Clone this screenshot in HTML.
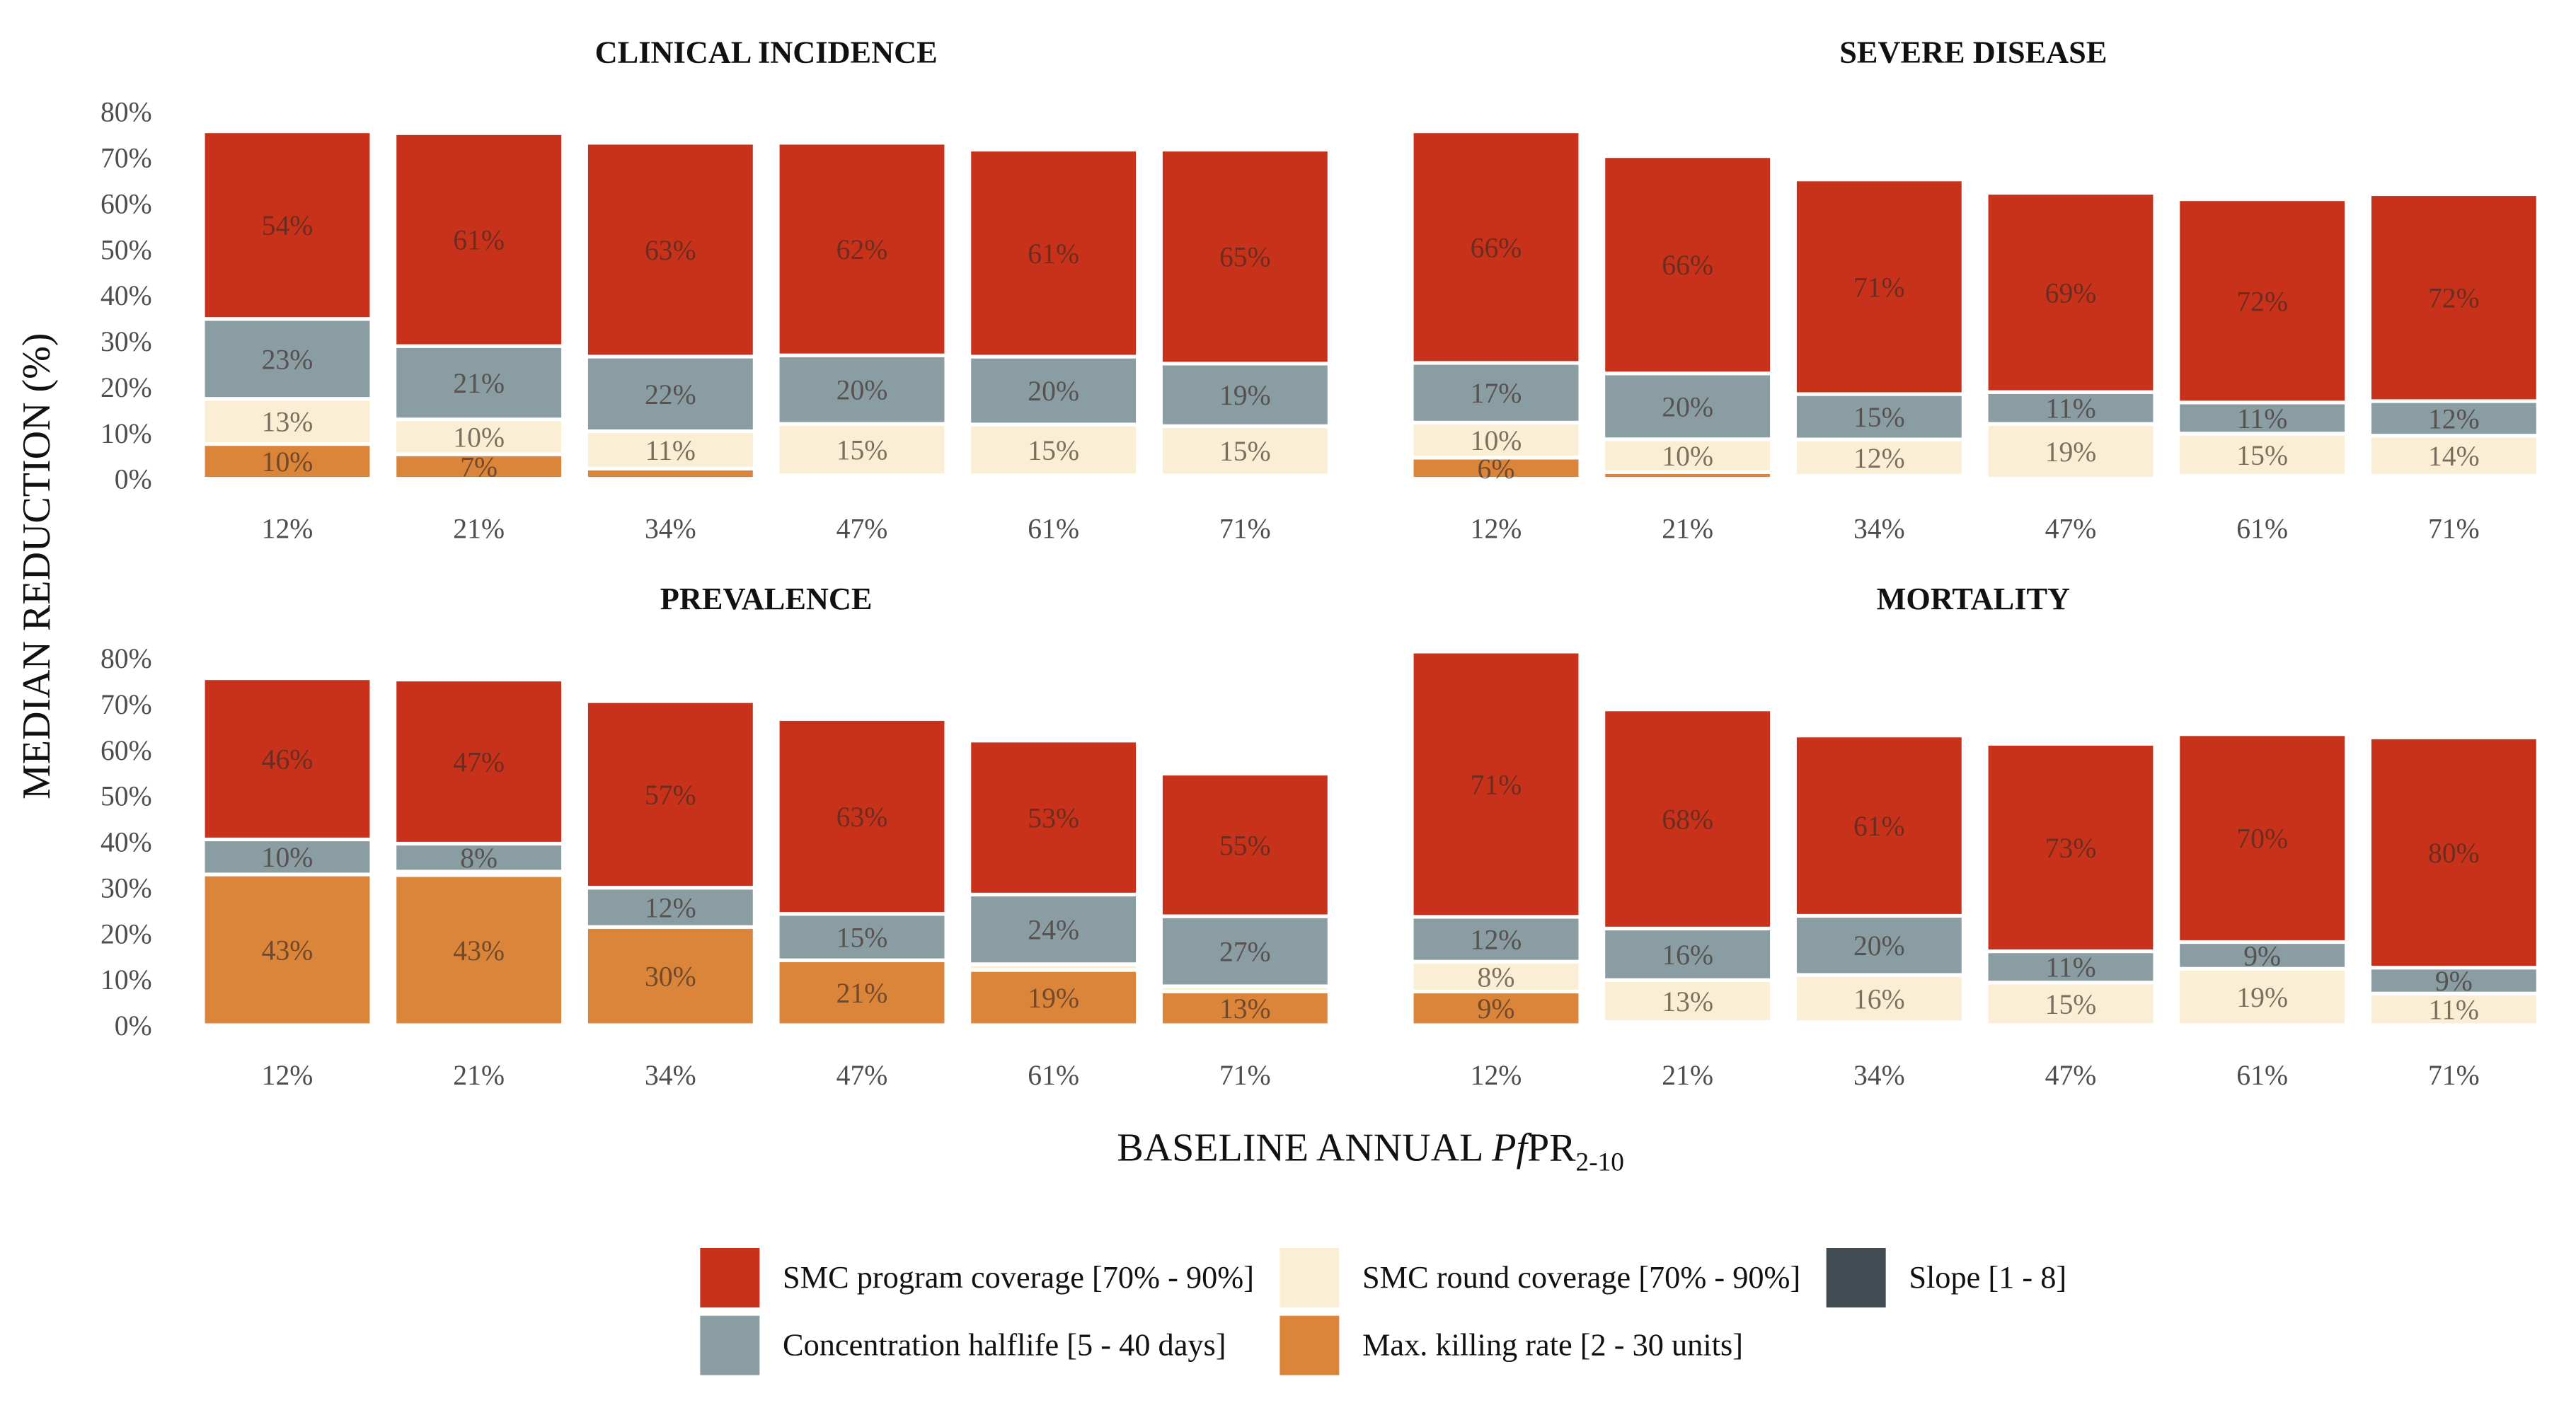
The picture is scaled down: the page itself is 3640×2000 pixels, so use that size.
<!DOCTYPE html>
<html><head><meta charset="utf-8">
<style>
html,body{margin:0;padding:0;background:#fff;}
svg{display:block;}
text{font-family:"Liberation Serif",serif;}
</style></head>
<body>
<svg id="chart" width="3640" height="2000" viewBox="0 0 1560 857.14" preserveAspectRatio="none" xmlns="http://www.w3.org/2000/svg">
<g id="plot"></g>
</svg>
<script>
const categories = ["12%","21%","34%","47%","61%","71%"];
const panelTitles = ["CLINICAL INCIDENCE","SEVERE DISEASE","PREVALENCE","MORTALITY"];
const yTicks = [0,10,20,30,40,50,60,70,80];
const seriesNames = ["Max. killing rate","SMC round coverage","Concentration halflife","SMC program coverage"];
// total median reduction (%) per panel
const totalsClinical = [75.7,75.3,73.2,73.2,71.7,71.7];
const totalsSevere = [75.7,70.3,65.2,62.3,60.9,62.0];
const totalsPrevalence = [75.6,75.3,70.6,66.7,62.0,54.8];
const totalsMortality = [81.4,68.8,63.1,61.3,63.4,62.7];
// shares (%) of total by parameter — clinical
const killClinical = [10,7,3,1,1,1];
const roundClinical = [13,10,11,15,15,15];
const halfClinical = [23,21,22,20,20,19];
const progClinical = [54,61,63,62,61,65];
// severe
const killSevere = [6,2,1,0,1,1];
const roundSevere = [10,10,12,19,15,14];
const halfSevere = [17,20,15,11,11,12];
const progSevere = [66,66,71,69,72,72];
// prevalence
const killPrevalence = [43,43,30,21,19,13];
const roundPrevalence = [0,1,0,0,2,2];
const halfPrevalence = [10,8,12,15,24,27];
const progPrevalence = [46,47,57,63,53,55];
// mortality
const killMortality = [9,1,1,0,0,0];
const roundMortality = [8,13,16,15,19,11];
const halfMortality = [12,16,20,11,9,9];
const progMortality = [71,68,61,73,70,80];

const panels = [
  {totals:totalsClinical, segs:[killClinical,roundClinical,halfClinical,progClinical]},
  {totals:totalsSevere, segs:[killSevere,roundSevere,halfSevere,progSevere]},
  {totals:totalsPrevalence, segs:[killPrevalence,roundPrevalence,halfPrevalence,progPrevalence]},
  {totals:totalsMortality, segs:[killMortality,roundMortality,halfMortality,progMortality]}
];
const colors = ["#DB853A","#FAEFD4","#8A9DA3","#C8321A"];
const NS = "http://www.w3.org/2000/svg";
const plot = document.getElementById("plot");
function mk(tag, attrs, parent){
  const e = document.createElementNS(NS, tag);
  for (const k in attrs) e.setAttribute(k, attrs[k]);
  (parent||plot).appendChild(e);
  return e;
}
const layout = [
  {x0:174, y0:290, tx:464, ty:38, cy:326},
  {x0:906, y0:290, tx:1195, ty:38, cy:326},
  {x0:174, y0:621, tx:464, ty:369, cy:657},
  {x0:906, y0:621, tx:1195, ty:369, cy:657}
];
const pxPer = 2.78, step = 116, bw = 102;

panels.forEach((p, pi) => {
  const L = layout[pi];
  const g = mk("g", {});
  
  
  const yS = v => L.y0 - v * pxPer;
  const xS = i => L.x0 + i * step;
  const t = mk("text", {x:L.tx, y:L.ty, "text-anchor":"middle", "font-size":19, "font-weight":"bold", fill:"#111"}, g);
  t.textContent = panelTitles[pi];
  
  
  if (pi % 2 === 0) {
    yTicks.forEach(v => {
      const tt = mk("text", {x:92, y:yS(v)+6, "text-anchor":"end", "font-size":17, fill:"#4d4d4d"}, g);
      tt.textContent = v + "%";
      
      
    });
  }
  categories.forEach((c, i) => {
    const cl = mk("text", {x:xS(i), y:L.cy, "text-anchor":"middle", "font-size":17, fill:"#4d4d4d"}, g);
    cl.textContent = c;
    
    
    let sum = 0;
    p.segs.forEach(arr => { sum += arr[i]; });
    let acc = 0;
    p.segs.forEach((arr, si) => {
      const share = arr[i];
      if (share <= 0) return;
      const h = p.totals[i] * share / sum;
      const yTop = yS(acc + h), yBot = yS(acc);
      const r = mk("rect", {x:xS(i)-bw/2, y:yTop, width:bw, height:Math.max(yBot-yTop,0), fill:colors[si], stroke:"#fff", "stroke-width":2.2}, g);
      
      
      if (share >= 5) {
        const lt = mk("text", {x:xS(i), y:(yTop+yBot)/2+6, "text-anchor":"middle", "font-size":17, fill:"#3a2a22", "fill-opacity":0.65}, g);
        lt.textContent = share + "%";
        
        
      }
      acc += h;
    });
  });
});

const yt = mk("text", {x:0, y:0, "text-anchor":"middle", "font-size":24, fill:"#111", transform:"translate(30,343) rotate(-90)"});
yt.textContent = "MEDIAN REDUCTION (%)";



const xt = mk("text", {x:830, y:703, "text-anchor":"middle", "font-size":24, fill:"#111"});


xt.innerHTML = 'BASELINE ANNUAL <tspan font-style="italic">Pf</tspan>PR<tspan font-size="16" dy="6">2-10</tspan>';

const legendItems = [
  {c:"#C8321A", t:"SMC program coverage [70% - 90%]", x:424, y:756},
  {c:"#FAEFD4", t:"SMC round coverage [70% - 90%]", x:775, y:756},
  {c:"#414C52", t:"Slope [1 - 8]", x:1106, y:756},
  {c:"#8A9DA3", t:"Concentration halflife [5 - 40 days]", x:424, y:797},
  {c:"#DB853A", t:"Max. killing rate [2 - 30 units]", x:775, y:797}
];
legendItems.forEach(li => {
  const lg = mk("g", {});
  
  
  mk("rect", {x:li.x, y:li.y, width:36, height:36, fill:li.c}, lg);
  const tx = mk("text", {x:li.x+50, y:li.y+24, "font-size":19, fill:"#111"}, lg);
  tx.textContent = li.t;
});
</script>
</body></html>
